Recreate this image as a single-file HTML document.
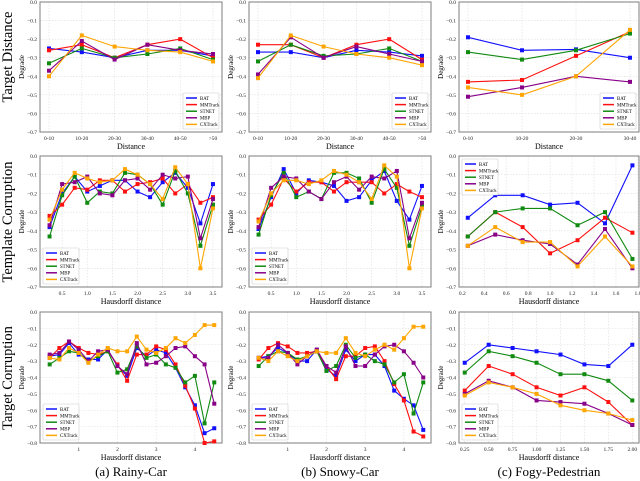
<!DOCTYPE html>
<html><head><meta charset="utf-8">
<style>
html,body{margin:0;padding:0;background:#fff;}
svg{display:block;font-family:"Liberation Serif",serif;}
</style></head>
<body>
<svg id="fig" width="640" height="481" viewBox="0 0 640 481" xmlns="http://www.w3.org/2000/svg">
<g><text x="12" y="57" font-size="14.5" text-anchor="middle" transform="rotate(-90 12 57)">Target  Distance</text></g>
<g><text x="12" y="222" font-size="14.5" text-anchor="middle" transform="rotate(-90 12 222)">Template Corruption</text></g>
<g><text x="12" y="378" font-size="14.5" text-anchor="middle" transform="rotate(-90 12 378)">Target Corruption</text></g>
<text x="131" y="476" font-size="13" text-anchor="middle">(a) Rainy-Car</text>
<text x="340" y="476" font-size="13" text-anchor="middle">(b) Snowy-Car</text>
<text x="549" y="476" font-size="13" text-anchor="middle">(c) Fogy-Pedestrian</text>
</svg>
<script>
const seriesNames = ["BAT","MMTrack","STNET","MBP","CXTrack"];
const distCats6 = ["0-10","10-20","20-30","30-40","40-50",">50"];
const distCats4 = ["0-10","10-20","20-30","30-40"];
const hX14 = [0.25,0.5,0.75,1.0,1.25,1.5,1.75,2.0,2.25,2.5,2.75,3.0,3.25,3.5];
const hX7 = [0.25,0.5,0.75,1.0,1.25,1.5,1.75];
const hX18 = [0.25,0.5,0.75,1.0,1.25,1.5,1.75,2.0,2.25,2.5,2.75,3.0,3.25,3.5,3.75,4.0,4.25,4.5];
const hX8 = [0.25,0.5,0.75,1.0,1.25,1.5,1.75,2.0];
const yTicks07 = [0,-0.1,-0.2,-0.3,-0.4,-0.5,-0.6,-0.7];
const yTicks08 = [0,-0.1,-0.2,-0.3,-0.4,-0.5,-0.6,-0.7,-0.8];
const xTicks2ab = [0.5,1.0,1.5,2.0,2.5,3.0,3.5];
const xTicks2c = [0.2,0.4,0.6,0.8,1.0,1.2,1.4,1.6,1.8];
const xTicks3ab = [1,2,3,4];
const xTicks3c = [0.25,0.5,0.75,1.0,1.25,1.5,1.75,2.0];

const r1a_BAT=[-0.25,-0.27,-0.30,-0.26,-0.26,-0.29];
const r1a_MMT=[-0.26,-0.23,-0.30,-0.23,-0.20,-0.30];
const r1a_STN=[-0.33,-0.25,-0.30,-0.28,-0.25,-0.31];
const r1a_MBP=[-0.37,-0.21,-0.31,-0.23,-0.26,-0.28];
const r1a_CX=[-0.40,-0.18,-0.24,-0.26,-0.27,-0.32];
const r1b_BAT=[-0.27,-0.27,-0.30,-0.26,-0.27,-0.29];
const r1b_MMT=[-0.23,-0.23,-0.30,-0.23,-0.20,-0.31];
const r1b_STN=[-0.32,-0.23,-0.29,-0.28,-0.25,-0.32];
const r1b_MBP=[-0.39,-0.19,-0.30,-0.24,-0.28,-0.32];
const r1b_CX=[-0.41,-0.18,-0.24,-0.28,-0.30,-0.34];
const r1c_BAT=[-0.19,-0.26,-0.255,-0.30];
const r1c_MMT=[-0.43,-0.42,-0.29,-0.16];
const r1c_STN=[-0.27,-0.31,-0.26,-0.17];
const r1c_MBP=[-0.51,-0.46,-0.40,-0.43];
const r1c_CX=[-0.46,-0.50,-0.40,-0.15];

const r2a_BAT=[-0.38,-0.20,-0.11,-0.19,-0.16,-0.13,-0.13,-0.19,-0.22,-0.14,-0.09,-0.17,-0.36,-0.15];
const r2a_MMT=[-0.32,-0.26,-0.17,-0.18,-0.13,-0.13,-0.19,-0.15,-0.14,-0.12,-0.20,-0.15,-0.25,-0.22];
const r2a_STN=[-0.43,-0.21,-0.11,-0.25,-0.19,-0.20,-0.09,-0.10,-0.15,-0.26,-0.08,-0.20,-0.48,-0.26];
const r2a_MBP=[-0.37,-0.15,-0.14,-0.11,-0.20,-0.21,-0.13,-0.12,-0.18,-0.10,-0.12,-0.11,-0.44,-0.23];
const r2a_CX=[-0.34,-0.18,-0.09,-0.12,-0.14,-0.13,-0.07,-0.10,-0.15,-0.23,-0.06,-0.15,-0.60,-0.28];
const r2b_BAT=[-0.39,-0.22,-0.07,-0.20,-0.13,-0.14,-0.16,-0.24,-0.22,-0.13,-0.08,-0.24,-0.34,-0.16];
const r2b_MMT=[-0.34,-0.26,-0.12,-0.19,-0.14,-0.14,-0.19,-0.14,-0.14,-0.14,-0.20,-0.15,-0.19,-0.22];
const r2b_STN=[-0.42,-0.21,-0.09,-0.22,-0.19,-0.23,-0.09,-0.09,-0.12,-0.25,-0.07,-0.17,-0.48,-0.27];
const r2b_MBP=[-0.38,-0.17,-0.11,-0.12,-0.19,-0.23,-0.14,-0.11,-0.18,-0.11,-0.12,-0.08,-0.44,-0.25];
const r2b_CX=[-0.35,-0.20,-0.13,-0.13,-0.15,-0.13,-0.08,-0.10,-0.14,-0.23,-0.05,-0.11,-0.60,-0.28];
const r2c_BAT=[-0.33,-0.21,-0.21,-0.26,-0.25,-0.36,-0.05];
const r2c_MMT=[-0.43,-0.30,-0.38,-0.52,-0.45,-0.33,-0.41];
const r2c_STN=[-0.43,-0.30,-0.28,-0.28,-0.37,-0.30,-0.55];
const r2c_MBP=[-0.48,-0.42,-0.45,-0.47,-0.58,-0.39,-0.60];
const r2c_CX=[-0.48,-0.38,-0.46,-0.46,-0.59,-0.43,-0.59];

const r3a_BAT=[-0.27,-0.26,-0.19,-0.26,-0.29,-0.29,-0.23,-0.33,-0.39,-0.22,-0.27,-0.23,-0.25,-0.34,-0.46,-0.57,-0.74,-0.71];
const r3a_MMT=[-0.28,-0.22,-0.18,-0.22,-0.25,-0.26,-0.24,-0.32,-0.42,-0.26,-0.26,-0.21,-0.23,-0.32,-0.45,-0.59,-0.80,-0.79];
const r3a_STN=[-0.32,-0.28,-0.24,-0.25,-0.30,-0.27,-0.24,-0.37,-0.35,-0.21,-0.28,-0.26,-0.32,-0.34,-0.43,-0.39,-0.68,-0.43];
const r3a_MBP=[-0.26,-0.25,-0.18,-0.23,-0.30,-0.24,-0.23,-0.33,-0.38,-0.19,-0.32,-0.31,-0.27,-0.22,-0.21,-0.27,-0.32,-0.56];
const r3a_CX=[-0.28,-0.29,-0.22,-0.25,-0.31,-0.26,-0.22,-0.24,-0.24,-0.15,-0.23,-0.25,-0.22,-0.16,-0.19,-0.14,-0.08,-0.08];
const r3b_BAT=[-0.28,-0.27,-0.22,-0.25,-0.30,-0.30,-0.23,-0.35,-0.39,-0.23,-0.30,-0.26,-0.26,-0.33,-0.48,-0.53,-0.57,-0.72];
const r3b_MMT=[-0.29,-0.22,-0.19,-0.21,-0.25,-0.25,-0.24,-0.33,-0.41,-0.27,-0.27,-0.22,-0.21,-0.30,-0.44,-0.54,-0.73,-0.76];
const r3b_STN=[-0.33,-0.27,-0.24,-0.25,-0.29,-0.27,-0.24,-0.36,-0.33,-0.20,-0.28,-0.26,-0.30,-0.32,-0.43,-0.38,-0.62,-0.43];
const r3b_MBP=[-0.28,-0.28,-0.20,-0.25,-0.32,-0.27,-0.23,-0.33,-0.37,-0.21,-0.33,-0.33,-0.26,-0.21,-0.20,-0.24,-0.31,-0.40];
const r3b_CX=[-0.28,-0.30,-0.24,-0.27,-0.30,-0.27,-0.24,-0.25,-0.25,-0.16,-0.25,-0.27,-0.23,-0.20,-0.23,-0.16,-0.09,-0.09];
const r3c_BAT=[-0.31,-0.20,-0.22,-0.24,-0.26,-0.32,-0.33,-0.20];
const r3c_MMT=[-0.48,-0.33,-0.38,-0.46,-0.51,-0.46,-0.55,-0.69];
const r3c_STN=[-0.37,-0.24,-0.27,-0.31,-0.38,-0.38,-0.42,-0.54];
const r3c_MBP=[-0.50,-0.42,-0.46,-0.54,-0.55,-0.56,-0.62,-0.69];
const r3c_CX=[-0.51,-0.43,-0.46,-0.50,-0.57,-0.60,-0.62,-0.66];

const COLORS=["#1010ff","#ff1010","#108a10","#880088","#ffa500"];
const NS="http://www.w3.org/2000/svg";
const svg=document.getElementById("fig");
function mk(tag,attrs,parent){const e=document.createElementNS(NS,tag);for(const k in attrs)e.setAttribute(k,attrs[k]);(parent||svg).appendChild(e);return e;}
function fmt(v,d){return (v<0?"\u2212":"")+Math.abs(v).toFixed(d);}

function panel(cfg){
  const g=mk("g",{});
  
  
  const L=cfg.box[0],R=cfg.box[1],T=cfg.box[2],B=cfg.box[3];
  let xs;
  if(cfg.cats){const n=cfg.cats.length,pad=9;xs=i=>L+pad+(R-L-2*pad)*i/(n-1);}
  else{xs=v=>L+(v-cfg.xd[0])/(cfg.xd[1]-cfg.xd[0])*(R-L);}
  const ys=v=>T+(v-cfg.yd[0])/(cfg.yd[1]-cfg.yd[0])*(B-T);
  const xt=cfg.cats?cfg.cats.map((c,i)=>[i,c]):cfg.xticks.map(v=>[v,cfg.xfmt(v)]);
  xt.forEach(([v,lab])=>{const x=xs(v);
    const gl=mk("line",{x1:x,x2:x,y1:T,y2:B,stroke:"#ddd","stroke-width":0.6,"stroke-dasharray":"1.5,1.5"},g);
    
    const t=mk("text",{x:x,y:B+8,"font-size":5.5,"text-anchor":"middle",fill:"#222"},g);t.textContent=lab;
    });
  cfg.yticks.forEach(v=>{const y=ys(v);
    const gl=mk("line",{x1:L,x2:R,y1:y,y2:y,stroke:"#ddd","stroke-width":0.6,"stroke-dasharray":"1.5,1.5"},g);
    
    const t=mk("text",{x:L-3,y:y+2,"font-size":5.5,"text-anchor":"end",fill:"#222"},g);t.textContent=fmt(v,1);
    });
  const fr=mk("rect",{x:L,y:T,width:R-L,height:B-T,fill:"none",stroke:"#888","stroke-width":1.1},g);
  
  const xl=mk("text",{x:(L+R)/2,y:B+17,"font-size":8,"text-anchor":"middle"},g);xl.textContent=cfg.xlabel;
  
  const yx=L-16,yy=(T+B)/2;
  const yl=mk("text",{x:yx,y:yy,"font-size":7,"text-anchor":"middle",transform:`rotate(-90 ${yx} ${yy})`},g);yl.textContent="Degrade";
  
  cfg.series.forEach((vals,si)=>{
    const xv=cfg.cats?vals.map((_,i)=>i):cfg.xvals;
    const pts=vals.map((v,i)=>xs(xv[i]).toFixed(1)+","+ys(v).toFixed(1)).join(" ");
    const pl=mk("polyline",{points:pts,fill:"none",stroke:COLORS[si],"stroke-width":1.1},g);
    
    vals.forEach((v,i)=>{const m=mk("rect",{x:xs(xv[i])-2,y:ys(v)-2,width:4,height:4,fill:COLORS[si]},g);
      });
  });
  const lw=36,lh=36;let lx,ly;
  if(cfg.legend==="br"){lx=R-lw-3;ly=B-lh-3;}else if(cfg.legend==="bl"){lx=L+3;ly=B-lh-3;}else{lx=L+3;ly=T+3;}
  const lg=mk("g",{},g);
  
  mk("rect",{x:lx,y:ly,width:lw,height:lh,fill:"#fff",stroke:"#ccc","stroke-width":0.6,rx:1},lg);
  seriesNames.forEach((n,i)=>{const y=ly+5+i*6.6;
    const ln=mk("line",{x1:lx+3,x2:lx+14,y1:y,y2:y,stroke:COLORS[i],"stroke-width":1.5},lg);
    
    const t=mk("text",{x:lx+17,y:y+1.8,"font-size":4.8},lg);t.textContent=n;
    });
}
const colA=[40,222],colB=[249,431],colC=[459,639];
const row1=[2,132],row2=[156,287],row3=[312,443];
const f2=v=>v.toFixed(1), f0=v=>String(v), f22=v=>v.toFixed(2);
panel({name:"chart-target-distance-rainy",box:[...colA,...row1],cats:distCats6,yd:[0,-0.7],yticks:yTicks07,xlabel:"Distance",legend:"br",series:[r1a_BAT,r1a_MMT,r1a_STN,r1a_MBP,r1a_CX]});
panel({name:"chart-target-distance-snowy",box:[...colB,...row1],cats:distCats6,yd:[0,-0.7],yticks:yTicks07,xlabel:"Distance",legend:"br",series:[r1b_BAT,r1b_MMT,r1b_STN,r1b_MBP,r1b_CX]});
panel({name:"chart-target-distance-fogy",box:[...colC,...row1],cats:distCats4,yd:[0,-0.7],yticks:yTicks07,xlabel:"Distance",legend:"br",series:[r1c_BAT,r1c_MMT,r1c_STN,r1c_MBP,r1c_CX]});
panel({name:"chart-template-corruption-rainy",box:[...colA,...row2],xd:[0.06,3.68],xticks:xTicks2ab,xfmt:f2,xvals:hX14,yd:[0,-0.7],yticks:yTicks07,xlabel:"Hausdorff distance",legend:"bl",series:[r2a_BAT,r2a_MMT,r2a_STN,r2a_MBP,r2a_CX]});
panel({name:"chart-template-corruption-snowy",box:[...colB,...row2],xd:[0.06,3.68],xticks:xTicks2ab,xfmt:f2,xvals:hX14,yd:[0,-0.7],yticks:yTicks07,xlabel:"Hausdorff distance",legend:"bl",series:[r2b_BAT,r2b_MMT,r2b_STN,r2b_MBP,r2b_CX]});
panel({name:"chart-template-corruption-fogy",box:[...colC,...row2],xd:[0.17,1.81],xticks:xTicks2c,xfmt:f2,xvals:hX7,yd:[0,-0.7],yticks:yTicks07,xlabel:"Hausdorff distance",legend:"tl",series:[r2c_BAT,r2c_MMT,r2c_STN,r2c_MBP,r2c_CX]});
panel({name:"chart-target-corruption-rainy",box:[...colA,...row3],xd:[0,4.7],xticks:xTicks3ab,xfmt:f0,xvals:hX18,yd:[0,-0.8],yticks:yTicks08,xlabel:"Hausdorff distance",legend:"bl",series:[r3a_BAT,r3a_MMT,r3a_STN,r3a_MBP,r3a_CX]});
panel({name:"chart-target-corruption-snowy",box:[...colB,...row3],xd:[0,4.7],xticks:xTicks3ab,xfmt:f0,xvals:hX18,yd:[0,-0.8],yticks:yTicks08,xlabel:"Hausdorff distance",legend:"bl",series:[r3b_BAT,r3b_MMT,r3b_STN,r3b_MBP,r3b_CX]});
panel({name:"chart-target-corruption-fogy",box:[...colC,...row3],xd:[0.19,2.07],xticks:xTicks3c,xfmt:f22,xvals:hX8,yd:[0,-0.8],yticks:yTicks08,xlabel:"Hausdorff distance",legend:"bl",series:[r3c_BAT,r3c_MMT,r3c_STN,r3c_MBP,r3c_CX]});
</script>
</body></html>
